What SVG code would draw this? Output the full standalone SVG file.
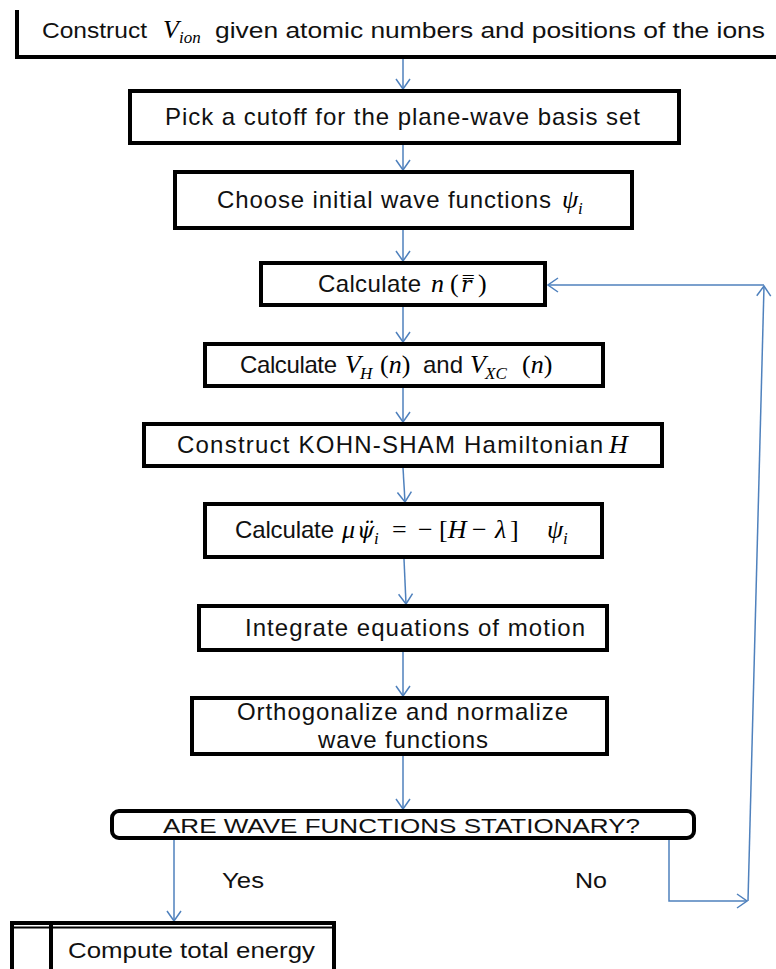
<svg xmlns="http://www.w3.org/2000/svg" width="776" height="969" viewBox="0 0 776 969">
<style>
.box{fill:#fff;stroke:#000;stroke-width:4}
.t{font-family:"Liberation Sans",Arial,sans-serif;font-size:24px;fill:#111}
.m{font-family:"Liberation Serif","DejaVu Serif",serif;font-style:italic;font-size:26px}
.u{font-family:"Liberation Serif","DejaVu Serif",serif;font-style:normal;font-size:26px}
.s{font-size:17px}
.c{fill:none;stroke:#4f81bd;stroke-width:1.5}
</style>
<defs>
<marker id="ah" viewBox="0 0 12 16" refX="11" refY="8" markerWidth="12" markerHeight="16" markerUnits="userSpaceOnUse" orient="auto">
<path d="M1,1 L11,8 L1,15" fill="none" stroke="#4f81bd" stroke-width="1.5"/>
</marker>
</defs>
<rect width="776" height="969" fill="#fff"/>

<g id="connectors">
<path class="c" d="M403,59 L403,89" marker-end="url(#ah)"/>
<path class="c" d="M403,145 L403,170" marker-end="url(#ah)"/>
<path class="c" d="M403,230 L403,261" marker-end="url(#ah)"/>
<path class="c" d="M403,307 L403,342" marker-end="url(#ah)"/>
<path class="c" d="M403,388 L403,422" marker-end="url(#ah)"/>
<path class="c" d="M403,468 L405,502" marker-end="url(#ah)"/>
<path class="c" d="M404,559 L406,604" marker-end="url(#ah)"/>
<path class="c" d="M403,651 L403,696" marker-end="url(#ah)"/>
<path class="c" d="M403,756 L403,809" marker-end="url(#ah)"/>
<path class="c" d="M174,840 L174,921" marker-end="url(#ah)"/>
<path class="c" d="M590,839 L669,839 L669,901 L747,901" marker-end="url(#ah)"/>
<path class="c" d="M748,901 L764,286" marker-end="url(#ah)"/>
<path class="c" d="M764,285 L548,285" marker-end="url(#ah)"/>
</g>

<g id="n1">
<path d="M17,10 L17,57 L776,57" fill="none" stroke="#000" stroke-width="4"/>
<text class="t" x="42" y="38" style="font-size:22px" textLength="105" lengthAdjust="spacingAndGlyphs">Construct</text>
<text class="m" x="163" y="38">V</text>
<text class="m s" x="179" y="43">ion</text>
<text class="t" x="215" y="38" style="font-size:22px" textLength="550" lengthAdjust="spacingAndGlyphs">given atomic numbers and positions of the ions</text>
</g>

<g id="n2">
<rect class="box" x="130" y="91" width="549" height="52"/>
<text class="t" x="165" y="125" textLength="475" lengthAdjust="spacing">Pick a cutoff for the plane-wave  basis set</text>
</g>

<g id="n3">
<rect class="box" x="175" y="172" width="457" height="56"/>
<text class="t" x="217" y="208" textLength="334" lengthAdjust="spacing">Choose initial wave functions</text>
<text class="m" x="562" y="208">ψ</text>
<text class="m s" x="578" y="214">i</text>
</g>

<g id="n4">
<rect class="box" x="261" y="263" width="284" height="42"/>
<text class="t" x="318" y="292" textLength="103" lengthAdjust="spacing">Calculate</text>
<text class="m" x="431" y="292">n</text>
<text class="u" x="450" y="292">(</text>
<text class="m" x="461" y="292" style="font-family:'DejaVu Serif',serif;font-size:22px">r̿</text>
<text class="u" x="478" y="292">)</text>
</g>

<g id="n5">
<rect class="box" x="205" y="344" width="398" height="42"/>
<text class="t" x="240" y="373" textLength="97" lengthAdjust="spacing">Calculate</text>
<text class="m" x="345" y="373">V</text>
<text class="m s" x="360" y="379">H</text>
<text class="u" x="380" y="373">(<tspan class="m">n</tspan>)</text>
<text class="t" x="423" y="373">and</text>
<text class="m" x="470" y="373">V</text>
<text class="m s" x="485" y="379">XC</text>
<text class="u" x="522" y="373">(<tspan class="m">n</tspan>)</text>
</g>

<g id="n6">
<rect class="box" x="144" y="424" width="518" height="42"/>
<text class="t" x="177" y="453" textLength="426" lengthAdjust="spacing">Construct  KOHN-SHAM  Hamiltonian</text>
<text class="m" x="609" y="453">H</text>
</g>

<g id="n7">
<rect class="box" x="205" y="504" width="397" height="53"/>
<text class="t" x="235" y="538" textLength="99" lengthAdjust="spacing">Calculate</text>
<text class="m" x="342" y="538">μ</text>
<text class="m" x="357" y="538" style="font-family:'DejaVu Serif',serif;font-size:22px">ψ̈</text>
<text class="m s" x="374" y="544">i</text>
<text class="u" x="392" y="538">=</text>
<text class="u" x="418" y="538">−</text>
<text class="u" x="439" y="538">[<tspan class="m">H</tspan></text>
<text class="u" x="472" y="538">−</text>
<text class="m" x="495" y="538">λ</text>
<text class="u" x="510" y="538">]</text>
<text class="m" x="547" y="538">ψ</text>
<text class="m s" x="563" y="544">i</text>
</g>

<g id="n8">
<rect class="box" x="199" y="606" width="408" height="44"/>
<text class="t" x="245" y="636" textLength="340" lengthAdjust="spacing">Integrate  equations of motion</text>
</g>

<g id="n9">
<rect class="box" x="192" y="698" width="415" height="56"/>
<text class="t" x="237" y="720" textLength="331" lengthAdjust="spacing">Orthogonalize  and normalize</text>
<text class="t" x="318" y="748" textLength="170" lengthAdjust="spacing">wave functions</text>
</g>

<g id="n10">
<rect class="box" x="112" y="811" width="582" height="27" rx="7"/>
<text class="t" x="163" y="833" style="font-size:21px" textLength="477" lengthAdjust="spacingAndGlyphs">ARE WAVE FUNCTIONS  STATIONARY?</text>
</g>

<g id="lbl-yes"><text class="t" x="222" y="888" style="font-size:22px" textLength="42" lengthAdjust="spacingAndGlyphs">Yes</text></g>
<g id="lbl-no"><text class="t" x="575" y="888" style="font-size:22px" textLength="32" lengthAdjust="spacingAndGlyphs">No</text></g>

<g id="n11">
<rect class="box" x="12" y="923" width="322" height="60"/>
<line x1="12" y1="927.5" x2="334" y2="927.5" stroke="#000" stroke-width="2"/>
<line x1="51" y1="923" x2="51" y2="975" stroke="#000" stroke-width="4"/>
<text class="t" x="68" y="958" style="font-size:22px" textLength="247" lengthAdjust="spacingAndGlyphs">Compute total energy</text>
</g>
</svg>
